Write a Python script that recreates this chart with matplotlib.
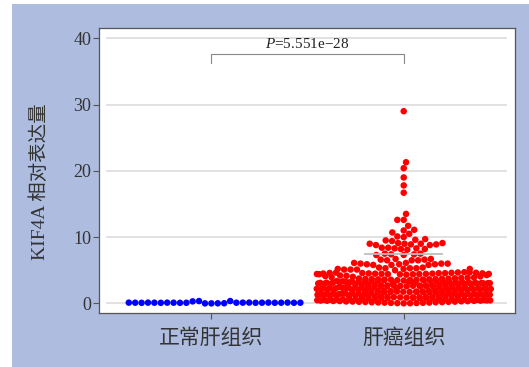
import numpy as np
import matplotlib
matplotlib.use("Agg")
import matplotlib.pyplot as plt
from matplotlib.patches import Rectangle

plt.rcParams['font.family'] = ['Liberation Serif', 'Noto Sans CJK SC']
plt.rcParams['mathtext.fontset'] = 'custom'
plt.rcParams['mathtext.rm'] = 'Liberation Serif'
plt.rcParams['mathtext.it'] = 'Liberation Serif:italic'

groups = ['正常肝组织', '肝癌组织']
ylabel = 'KIF4A 相对表达量'
pvalue_text = r'$P$=5.551e−28'

# normal liver tissue (placed in this order)
normal = [0.00, 0.01, 0.00, 0.35, 0.02, 0.30, 0.35, 0.10, 0.09, 0.11,
          0.08, 0.12, 0.10, 0.09, 0.11, 0.10, 0.08, 0.12, 0.10, 0.09,
          0.11, 0.10, 0.08, 0.12, 0.10, 0.09, 0.11, 0.10]

# tumour tissue, split by range
tumor_high = [29.0, 21.3, 20.4, 19.0, 17.8, 16.7, 13.5, 12.6, 12.6, 11.7,
              11.1, 11.0, 10.7, 10.5, 10.1, 10.0,
              9.7, 9.6, 9.5, 9.4,
              9.1, 9.1, 9.0, 9.0, 9.0, 8.9, 8.9, 8.8, 8.8]
tumor_mid = [8.4, 8.4, 8.3, 8.3, 8.2, 8.2, 8.1,
             7.5, 7.5, 7.4, 7.4, 7.3, 7.3,
             6.7, 6.7, 6.6, 6.6, 6.5, 6.5, 6.5,
             6.1, 6.1, 6.0, 6.0, 6.0, 5.9, 5.9, 5.9, 5.8, 5.8, 5.8,
             5.4, 5.4, 5.3, 5.3, 5.3, 5.2, 5.2, 5.2, 5.1, 5.1, 5.1, 5.0]
tumor_low = [4.70, 4.68, 4.66, 4.64, 4.62, 4.61, 4.59, 4.58, 4.56, 4.55, 4.53, 4.52,
             4.50, 4.49, 4.48, 4.46, 4.45, 4.44, 4.43, 4.42, 4.41, 4.40, 4.39, 4.38,
             4.33, 4.27, 4.21, 4.16, 4.12, 4.07, 4.01, 3.95, 3.90, 3.86, 3.82, 3.78,
             3.75, 3.72, 3.71, 3.69, 3.66, 3.65, 3.63, 3.62, 3.60,
             3.58, 3.56, 3.55, 3.52, 3.50, 3.49, 3.47, 3.45, 3.43, 3.41, 3.40, 3.38, 3.37,
             3.35, 3.33, 3.31, 3.30, 3.28, 3.27, 3.25, 3.24, 3.22, 3.21, 3.20,
             3.19, 3.17, 3.15, 3.14, 3.12, 3.10, 3.09, 3.07, 3.05, 3.04, 3.02, 3.00, 2.99,
             2.97, 2.95, 2.93, 2.92, 2.90, 2.88, 2.86, 2.85, 2.83, 2.81, 2.80,
             2.78, 2.77, 2.75, 2.73, 2.71, 2.70, 2.68, 2.66, 2.65, 2.63, 2.61, 2.59, 2.58,
             2.56, 2.54, 2.52, 2.51, 2.49, 2.47, 2.45, 2.44, 2.42, 2.41, 2.40,
             2.38, 2.36, 2.35, 2.33, 2.31, 2.29, 2.28, 2.26, 2.24, 2.23, 2.21, 2.19, 2.17,
             2.16, 2.14, 2.12, 2.11, 2.09, 2.07, 2.05, 2.04, 2.02, 2.01, 2.00,
             1.98, 1.96, 1.95, 1.93, 1.91, 1.89, 1.88, 1.86, 1.84, 1.83, 1.81, 1.79, 1.77,
             1.76, 1.74, 1.72, 1.71, 1.69, 1.67, 1.65, 1.64, 1.62, 1.61, 1.60,
             1.58, 1.56, 1.55, 1.53, 1.51, 1.49, 1.48, 1.46, 1.44, 1.43, 1.41, 1.39, 1.37,
             1.36, 1.34, 1.32, 1.31, 1.29, 1.27, 1.25, 1.24, 1.22, 1.21, 1.20,
             1.18, 1.16, 1.15, 1.13, 1.11, 1.09, 1.08, 1.06, 1.04, 1.03, 1.01, 0.99, 0.97,
             0.96, 0.94, 0.92, 0.91, 0.89, 0.87, 0.85, 0.84, 0.82, 0.81, 0.80,
             0.78, 0.76, 0.75, 0.73, 0.71, 0.69, 0.68, 0.66, 0.64, 0.63, 0.61, 0.59, 0.57,
             0.56, 0.54, 0.52, 0.51, 0.49, 0.47, 0.45, 0.44, 0.42, 0.41, 0.40,
             0.38, 0.36, 0.35, 0.33, 0.31, 0.29, 0.28, 0.26, 0.24, 0.23, 0.21, 0.19, 0.17,
             0.16, 0.14, 0.12, 0.11, 0.09, 0.07, 0.05, 0.04, 0.02, 0.01]
tumor = tumor_high + tumor_mid + tumor_low

upper_line = 7.5   # grey summary line on the tumour group
yticks = [0, 10, 20, 30, 40]

fig = plt.figure(figsize=(5.29, 3.67), dpi=100)
fig.patch.set_facecolor('white')
fig.patches.append(Rectangle((12 / 529, 0), 1, (367 - 4) / 367, transform=fig.transFigure,
                             facecolor='#adbcdf', edgecolor='none', zorder=-10))

ax = fig.add_axes((0.188, 0.1463, 0.7864, 0.7782))
ax.set_xlim(-0.582, 1.581)
ax.set_ylim(-1.5, 41.6)


def swarm_offsets(vals, center, diam, width, ascending=True):
    # greedy beeswarm in pixel space, points wrapped into a fixed width
    pix = ax.transData.transform(np.column_stack([np.full(len(vals), center), vals]))
    ys = pix[:, 1]
    cx = pix[0, 0]
    xs = np.zeros(len(vals))
    px, py = [], []
    order = np.argsort(ys, kind='stable') if ascending else range(len(vals))
    for i in order:
        y = ys[i]
        x = 0.0
        if px:
            ax_ = np.array(px)
            ay_ = np.array(py)
            dy = np.abs(ay_ - y)
            near = dy < diam
            dx = np.sqrt(diam ** 2 - dy[near] ** 2)
            cands = [0.0] + list(ax_[near] + dx) + list(ax_[near] - dx)
            cands.sort(key=abs)
            for c in cands:
                if np.all((c - ax_[near]) ** 2 + dy[near] ** 2 >= diam ** 2 - 1e-6):
                    x = c
                    break
        px.append(x)
        py.append(y)
        half = width / 2
        if abs(x) > half:
            x = ((x + half) % width) - half
        xs[i] = x
    back = ax.transData.inverted().transform(np.column_stack([cx + xs, ys]))
    return back[:, 0], back[:, 1]


for y in yticks:
    ax.axhline(y, xmin=0.018, xmax=0.977, color='#dedede', lw=1.3, zorder=0)

nx, ny = swarm_offsets(normal, 0, 6.4, 180, ascending=False)
tx, ty = swarm_offsets(tumor, 1, 6.4, 176)
ax.scatter(nx, ny, s=22, color='#0000ff', edgecolors='none', zorder=3)
ax.scatter(tx, ty, s=22, color='#ff0000', edgecolors='none', zorder=3)

ax.plot([0.8, 1.2], [upper_line, upper_line], color='#bdbdbd', lw=1.3, zorder=4)

# significance bracket
ax.plot([0, 0, 1, 1], [36.2, 37.7, 37.7, 36.2], color='#888888', lw=0.8)
ax.text(0.5, 39.1, pvalue_text, ha='center', va='center', fontsize=11,
        family='Liberation Serif', color='#222222')

ax.set_xticks([0, 1])
ax.set_xticklabels(groups, fontsize=15, family=['Noto Sans CJK SC'], color='#333333')
ax.set_yticks(yticks)
ax.set_yticklabels([str(v) for v in yticks], fontsize=13, color='#333333')
ax.tick_params(axis='both', direction='out', length=4, width=0.8, color='#555555')
ax.tick_params(axis='y', pad=2)
ax.tick_params(axis='x', pad=6)
for s in ax.spines.values():
    s.set_color('#555555')
    s.set_linewidth(0.9)

ax.set_ylabel(ylabel, fontsize=14, color='#333333',
              family=['Liberation Serif', 'Noto Sans CJK SC'])
ax.yaxis.set_label_coords(-0.121, 0.46)

fig.savefig('out.png', dpi=100, facecolor=fig.get_facecolor())
